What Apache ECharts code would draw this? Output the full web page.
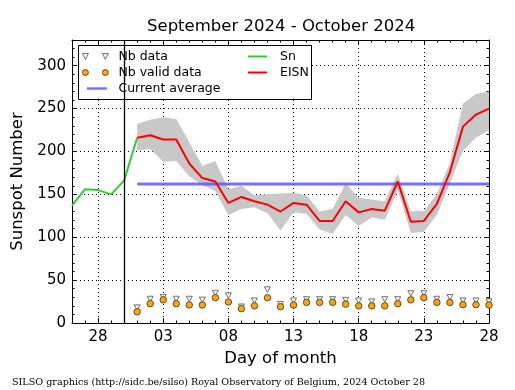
<!DOCTYPE html>
<html><head><meta charset="utf-8">
<script src="https://cdn.jsdelivr.net/npm/echarts@6/dist/echarts.min.js"></script>
<style>html,body{margin:0;padding:0;background:#fff}#c{width:515px;height:390px}</style>
</head><body><div id="c"></div>
<script>
// ---------------- data ----------------
const allDates = ['09-26','09-27','09-28','09-29','09-30',
                  '10-01','10-02','10-03','10-04','10-05','10-06','10-07','10-08','10-09','10-10',
                  '10-11','10-12','10-13','10-14','10-15','10-16','10-17','10-18','10-19','10-20',
                  '10-21','10-22','10-23','10-24','10-25','10-26','10-27','10-28'];

const snDates   = ['09-26','09-27','09-28','09-29','09-30','10-01'];
const snValues  = [137, 156, 155, 150, 166, 216];

const octDates  = ['10-01','10-02','10-03','10-04','10-05','10-06','10-07','10-08','10-09','10-10',
                   '10-11','10-12','10-13','10-14','10-15','10-16','10-17','10-18','10-19','10-20',
                   '10-21','10-22','10-23','10-24','10-25','10-26','10-27','10-28'];
const eisnValues = [216,219,214,214,186,169,165,140,147,142,138,130,140,138,119,119,142,129,133,131,165,118,119,139,176,229,243,250];
const eisnHigh   = [232,237,240,238,211,183,189,156,160,149,150,151,152,149,130,133,163,146,144,142,174,130,131,150,187,256,267,270];
const eisnLow    = [201,203,188,189,171,161,154,126,133,135,128,108,129,127,109,104,126,113,123,120,155,105,106,126,163,201,216,225];
const nbData     = [18,28,30,28,28,27,35,32,19,26,39,22,26,27.5,27.5,27.5,26.7,26,25,27.5,27.5,34.5,34.5,28,30,26,26,25];
const nbValid    = [13,22.5,27,22.5,21,21,29.5,24.5,16.7,20,29.5,19,21,24,24,24,22,20,20,20,22.5,27,29.5,24,24,21.3,21.3,21];

const averageValue = 162;
const averageFrom  = '10-01';
const averageTo    = '10-28';
const boundaryDate = '09-30';

const xTickDates  = ['09-28','10-03','10-08','10-13','10-18','10-23','10-28'];
const xTickLabels = ['28','03','08','13','18','23','28'];
const yTickLabels = ['0','50','100','150','200','250','300'];

// ---------------- helpers ----------------
const ix = d => allDates.indexOf(d);
const octX = octDates.map(ix);
const pairs = (xs, ys) => xs.map((x,i)=>[x, ys[i]]);
const isMajor = (i, v) => xTickDates.indexOf(v) >= 0;

const FONT = 'DejaVu Sans';
const black = '#000';

function majorX(pos, labels){
  return {type:'category', data:allDates, boundaryGap:false, position:pos,
    axisLine:{show:true, onZero:false, lineStyle:{color:black, width:1}},
    axisTick:{show:true, inside:true, length:5, interval:isMajor, lineStyle:{color:black, width:1}},
    axisLabel:{show:labels, interval:isMajor, color:black, fontSize:15, fontFamily:FONT, margin:7,
      formatter:v => { const k = xTickDates.indexOf(v); return k>=0 ? xTickLabels[k] : ''; }},
    splitLine:{show:labels, interval:isMajor, lineStyle:{color:black, width:1, type:[1,3]}}};
}
function minorX(pos){
  return {type:'category', data:allDates, boundaryGap:false, position:pos,
    axisLine:{show:false, onZero:false}, axisLabel:{show:false}, splitLine:{show:false},
    axisTick:{show:true, inside:true, length:2.5, interval:0, lineStyle:{color:black, width:1}}};
}
function majorY(pos, labels){
  return {type:'value', position:pos, min:0, max:330, interval:50,
    axisLine:{show:true, onZero:false, lineStyle:{color:black, width:1}},
    axisTick:{show:true, inside:true, length:5, lineStyle:{color:black, width:1}},
    axisLabel:{show:labels, color:black, fontSize:15, fontFamily:FONT, margin:6,
      formatter:v => (v%50===0 && v<=300) ? yTickLabels[v/50] : ''},
    splitLine:{show:labels, lineStyle:{color:black, width:1, type:[1,3]}}};
}
function minorY(pos){
  return {type:'value', position:pos, min:0, max:330, interval:10,
    axisLine:{show:false, onZero:false}, axisLabel:{show:false}, splitLine:{show:false},
    axisTick:{show:true, inside:true, length:2.5, lineStyle:{color:black, width:1}}};
}

const xb = majorX('bottom', true);
xb.name = 'Day of month'; xb.nameLocation = 'middle'; xb.nameGap = 25;
xb.nameTextStyle = {color:black, fontSize:16.5, fontFamily:FONT};
const yl = majorY('left', true);
yl.name = 'Sunspot Number'; yl.nameLocation = 'middle'; yl.nameGap = 35;
yl.nameTextStyle = {color:black, fontSize:16.5, fontFamily:FONT};

const triPath  = 'path://M0,0 M31,6 M0,0 L6,0 L3,6 Z M20,0 L26,0 L23,6 Z';
const circPath = 'path://M0,0 M31,6 M0,3 A3,3 0 1,1 6,3 A3,3 0 1,1 0,3 Z M20,3 A3,3 0 1,1 26,3 A3,3 0 1,1 20,3 Z';
const avgPath  = 'path://M0,0 M31,6 M4.5,1.8 L24.5,1.8 L24.5,4.2 L4.5,4.2 Z';
const linePath = 'path://M0,0 M27,6 M0,2 L19,2 L19,4 L0,4 Z';

const blue = 'rgba(80,80,255,0.8)';
const green = '#33cc33';
const red = '#ff0000';
const orange = '#ffa500';

const option = {
  animation:false,
  backgroundColor:'#fff',
  title:[
    {text:'September 2024 - October 2024', left:147, top:18, padding:0,
     textStyle:{color:black, fontSize:16.5, fontWeight:'normal', fontFamily:FONT}},
    {text:'SILSO graphics (http://sidc.be/silso) Royal Observatory of Belgium, 2024 October 28',
     left:12, top:377, padding:0,
     textStyle:{color:black, fontSize:9.6, fontWeight:'normal', fontFamily:'DejaVu Serif'}}
  ],
  grid:{left:72, right:26, top:40, bottom:67, containLabel:false},
  xAxis:[xb, majorX('top', false), minorX('bottom'), minorX('top')],
  yAxis:[yl, majorY('right', false), minorY('left'), minorY('right')],
  graphic:[{type:'rect', z:3, shape:{x:78.5, y:45.5, width:233, height:54},
            style:{fill:'#fff', stroke:black, lineWidth:1}, silent:true}],
  legend:[
    {left:82, top:48.5, orient:'vertical', itemGap:0, itemWidth:31, itemHeight:6, padding:0,
     selectedMode:false, z:5,
     textStyle:{color:black, fontSize:12.5, fontFamily:FONT, lineHeight:16},
     data:[
       {name:'Nb data', icon:triPath, itemStyle:{color:'#f0f0f0', borderColor:'#555', borderWidth:0.8}},
       {name:'Nb valid data', icon:circPath, itemStyle:{color:orange, borderColor:'#333', borderWidth:0.8}},
       {name:'Current average', icon:avgPath, itemStyle:{color:blue, borderWidth:0}}
     ]},
    {left:248, top:48.5, orient:'vertical', itemGap:0, itemWidth:27, itemHeight:6, padding:0,
     selectedMode:false, z:5,
     textStyle:{color:black, fontSize:12.5, fontFamily:FONT, lineHeight:16},
     data:[
       {name:'Sn', icon:linePath, itemStyle:{color:green, borderWidth:0}},
       {name:'EISN', icon:linePath, itemStyle:{color:red, borderWidth:0}}
     ]}
  ],
  series:[
    {name:'band', type:'custom', z:1, silent:true, clip:true,
     data: octX.map((x,i)=>[x, eisnLow[i], eisnHigh[i]]),
     encode:{x:0, y:[1,2]},
     renderItem:(params, api) => {
       if (params.dataIndex !== 0) return null;
       const pts = [];
       for (let i=0;i<octX.length;i++) pts.push(api.coord([octX[i], eisnHigh[i]]));
       for (let i=octX.length-1;i>=0;i--) pts.push(api.coord([octX[i], eisnLow[i]]));
       return {type:'polygon', shape:{points:pts}, style:{fill:'#c8c8c8'}};
     }},
    {name:'Current average', type:'line', z:2, symbol:'none', silent:true,
     data:[[ix(averageFrom), averageValue],[ix(averageTo), averageValue]],
     lineStyle:{color:blue, width:3}, itemStyle:{color:blue}},
    {name:'Sn', type:'line', z:3, symbol:'none', silent:true,
     data:pairs(snDates.map(ix), snValues),
     lineStyle:{color:green, width:2}, itemStyle:{color:green},
     markLine:{silent:true, symbol:'none', label:{show:false},
       lineStyle:{color:black, width:1.3, type:'solid'},
       data:[{xAxis:ix(boundaryDate)}]}},
    {name:'EISN', type:'line', z:4, symbol:'none', silent:true,
     data:pairs(octX, eisnValues),
     lineStyle:{color:red, width:2}, itemStyle:{color:red}},
    {name:'Nb data', type:'scatter', z:5, silent:true, symbol:'triangle', symbolRotate:180,
     symbolSize:[6,5.5], data:pairs(octX, nbData),
     itemStyle:{color:'#f0f0f0', borderColor:'#555', borderWidth:0.8, opacity:1}},
    {name:'Nb valid data', type:'scatter', z:6, silent:true, symbol:'circle',
     symbolSize:6.5, data:pairs(octX, nbValid),
     itemStyle:{color:orange, borderColor:'#333', borderWidth:0.8, opacity:1}}
  ]
};
const chart = echarts.init(document.getElementById('c'), null, {renderer:'canvas'});
chart.setOption(option);
</script></body></html>
